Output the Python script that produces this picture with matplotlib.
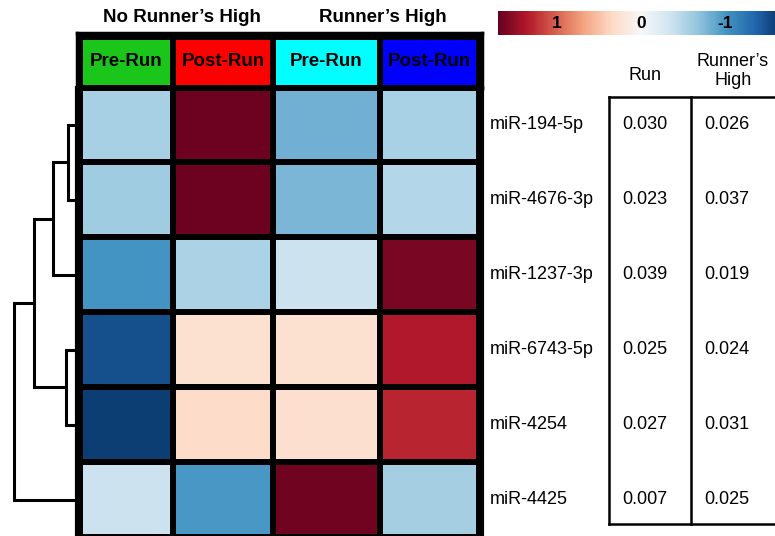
import numpy as np
import matplotlib.pyplot as plt
from matplotlib.colors import Normalize, ListedColormap
from matplotlib.cm import ScalarMappable

plt.rcParams['font.family'] = ['Liberation Sans', 'DejaVu Sans']

# ---- data ----
mirnas = ['miR-194-5p', 'miR-4676-3p', 'miR-1237-3p', 'miR-6743-5p', 'miR-4254', 'miR-4425']
groups = ["No Runner\u2019s High", "Runner\u2019s High"]
conditions = ['Pre-Run', 'Post-Run', 'Pre-Run', 'Post-Run']
condition_colors = ['#19c619', '#ff0000', '#00ffff', '#0000ff']

# z-scores
z = np.array([
    [-0.56, 1.67, -0.82, -0.55],
    [-0.60, 1.67, -0.78, -0.50],
    [-1.02, -0.54, -0.37, 1.62],
    [-1.50, 0.27, 0.27, 1.36],
    [-1.62, 0.33, 0.29, 1.30],
    [-0.37, -0.99, 1.65, -0.58],
])

p_run = ['0.030', '0.023', '0.039', '0.025', '0.027', '0.007']
p_high = ['0.026', '0.037', '0.019', '0.024', '0.031', '0.025']
table_cols = ['Run', 'Runner\u2019s\nHigh']

# dendrogram merges (left, right, height); new cluster ids start at 6
merges = [(0, 1, 0.10), (6, 2, 0.25), (3, 4, 0.12), (7, 8, 0.44), (9, 5, 0.64)]

cbar_ticks = [1, 0, -1]

# ---- layout ----
W, H = 775, 536
fig = plt.figure(figsize=(W / 100, H / 100), dpi=100)


def px(x0, y0, x1, y1):
    return [x0 / W, 1 - y1 / H, (x1 - x0) / W, (y1 - y0) / H]


col_edges = [80, 173, 273, 380, 479]
norm = Normalize(vmin=-1.7, vmax=1.7)
cmap = plt.get_cmap('RdBu_r')

# heatmap
ax = fig.add_axes(px(77, 87.5, 482, 537))
ax.set_facecolor('black')
ax.pcolormesh(col_edges, np.arange(len(mirnas) + 1), z, cmap=cmap, norm=norm,
              edgecolors='black', linewidth=3.2)
ax.set_xlim(77, 482)
ax.set_ylim(len(mirnas), 0)
ax.axis('off')
ax.add_patch(plt.Rectangle((0, 0), 1, 1, transform=ax.transAxes, facecolor='none',
                           edgecolor='black', lw=3, clip_on=False, zorder=5))

# header row
axh = fig.add_axes(px(77, 33, 482, 87.5))
axh.set_facecolor('black')
axh.pcolormesh(col_edges, [37, 87.5], np.arange(4).reshape(1, 4),
               cmap=ListedColormap(condition_colors), edgecolors='black', linewidth=3.2)
axh.set_xlim(77, 482)
axh.set_ylim(87.5, 33)
for i, lab in enumerate(conditions):
    axh.text((col_edges[i] + col_edges[i + 1]) / 2, 62, lab, ha='center', va='center',
             fontsize=13.5, fontweight='bold', color='black')
for gx, g in zip([182, 383], groups):
    axh.text(gx, 18, g, ha='center', va='center', fontsize=13.5, fontweight='bold',
             clip_on=False)
axh.set_xticks([])
axh.set_yticks([])
for s in axh.spines.values():
    s.set_linewidth(2.5)

# dendrogram
axd = fig.add_axes(px(0, 87.5, 78, 537))
pos = {i: i + 0.5 for i in range(len(mirnas))}
hgt = {i: 0.0 for i in range(len(mirnas))}
for k, (a, b, h) in enumerate(merges):
    for c in (a, b):
        axd.plot([hgt[c], h], [pos[c], pos[c]], color='black', lw=2.2,
                 solid_capstyle='butt')
    axd.plot([h, h], [pos[a], pos[b]], color='black', lw=2.2, solid_capstyle='projecting')
    pos[len(mirnas) + k] = (pos[a] + pos[b]) / 2
    hgt[len(mirnas) + k] = h
axd.set_xlim(0.78, 0)
axd.set_ylim(len(mirnas), 0)
axd.axis('off')

# colorbar
cax = fig.add_axes(px(498, 11, 784, 35))
cb = fig.colorbar(ScalarMappable(norm=norm, cmap=cmap), cax=cax, orientation='horizontal')
cax.invert_xaxis()
cb.outline.set_visible(False)
cax.set_xticks([])
for t in cbar_ticks:
    cax.text(t, 0.5, str(t), transform=cax.get_xaxis_transform(), ha='center',
             va='center', fontsize=12.5, fontweight='bold')

# p-value table
axt = fig.add_axes(px(480, 87.5, 775, 537))
axt.set_xlim(480, 775)
axt.set_ylim(len(mirnas), 0)
axt.axis('off')
top, bot = 0.13, 5.83
for i, name in enumerate(mirnas):
    axt.text(490, i + 0.5, name, ha='left', va='center', fontsize=13)
    axt.text(645, i + 0.5, p_run[i], ha='center', va='center', fontsize=13)
    axt.text(727, i + 0.5, p_high[i], ha='center', va='center', fontsize=13)
for x in (609, 691):
    axt.plot([x, x], [top, bot], color='black', lw=1.8, clip_on=False)
for y in (top, bot):
    axt.plot([609, 775], [y, y], color='black', lw=1.8, clip_on=False)
fig.text(645 / W, 1 - 75 / H, table_cols[0], ha='center', va='center', fontsize=13)
fig.text(733 / W, 1 - 71 / H, table_cols[1], ha='center', va='center', fontsize=13,
         linespacing=1.15)

fig.savefig('out.png', dpi=100)
